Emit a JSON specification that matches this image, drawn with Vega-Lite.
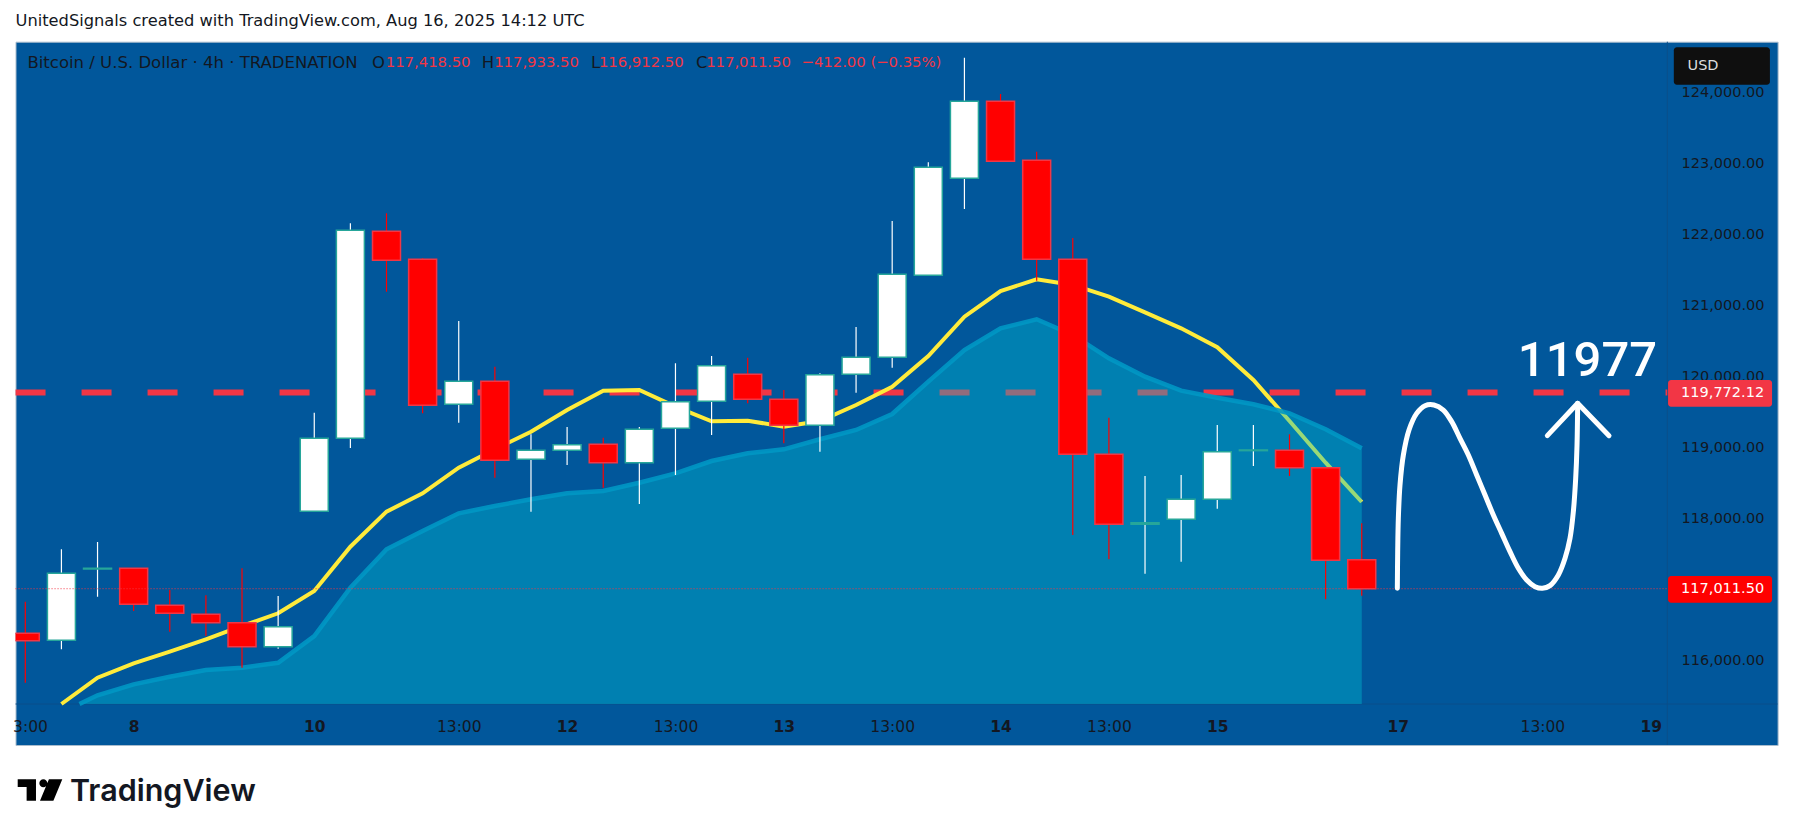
{
  "$schema": "https://vega.github.io/schema/vega-lite/v6.json",
  "description": "BTC/USD 4h candles with two moving averages and a drawn projection.",
  "width": 1762.1,
  "height": 703.3,
  "autosize": "none",
  "padding": {"left": 15.5, "top": 41.7, "right": 15.4, "bottom": 91},
  "background": "#ffffff",
  "view": {"fill": "#01579b", "stroke": "#a9bccd", "strokeWidth": 1},
  "title": {
    "text": "UnitedSignals created with TradingView.com, Aug 16, 2025 14:12 UTC",
    "anchor": "start",
    "frame": "group",
    "offset": 12,
    "font": "DejaVu Sans",
    "fontSize": 16.25,
    "fontWeight": "normal",
    "color": "#131722"
  },
  "datasets": {
    "candles": [
      {"i":0,"o":116384,"c":116280,"h":116829,"l":115689,"kind":"down","wick":"down"},
      {"i":1,"o":116286,"c":117229,"h":117567,"l":116159,"kind":"up","wick":"up"},
      {"i":2,"o":117290,"c":117300,"h":117669,"l":116900,"kind":"doji","wick":"up"},
      {"i":3,"o":117299,"c":116793,"h":117299,"l":116698,"kind":"down","wick":"down"},
      {"i":4,"o":116778,"c":116666,"h":116994,"l":116407,"kind":"down","wick":"down"},
      {"i":5,"o":116652,"c":116534,"h":116919,"l":116346,"kind":"down","wick":"down"},
      {"i":6,"o":116534,"c":116196,"h":117299,"l":115900,"kind":"down","wick":"down"},
      {"i":7,"o":116196,"c":116477,"h":116909,"l":116168,"kind":"up","wick":"up"},
      {"i":8,"o":118101,"c":119129,"h":119489,"l":118101,"kind":"up","wick":"up"},
      {"i":9,"o":119129,"c":122056,"h":122155,"l":118992,"kind":"up","wick":"up"},
      {"i":10,"o":122042,"c":121634,"h":122296,"l":121192,"kind":"down","wick":"down"},
      {"i":11,"o":121648,"c":119593,"h":121662,"l":119481,"kind":"down","wick":"down"},
      {"i":12,"o":119608,"c":119931,"h":120780,"l":119348,"kind":"up","wick":"up"},
      {"i":13,"o":119931,"c":118819,"h":120137,"l":118574,"kind":"down","wick":"down"},
      {"i":14,"o":118833,"c":118960,"h":119185,"l":118096,"kind":"up","wick":"up"},
      {"i":15,"o":118960,"c":119039,"h":119288,"l":118753,"kind":"up","wick":"up"},
      {"i":16,"o":119044,"c":118785,"h":119137,"l":118434,"kind":"down","wick":"down"},
      {"i":17,"o":118785,"c":119256,"h":119288,"l":118204,"kind":"up","wick":"up"},
      {"i":18,"o":119270,"c":119644,"h":120185,"l":118612,"kind":"up","wick":"up"},
      {"i":19,"o":119650,"c":120151,"h":120287,"l":119175,"kind":"up","wick":"up"},
      {"i":20,"o":120030,"c":119678,"h":120263,"l":119622,"kind":"down","wick":"down"},
      {"i":21,"o":119678,"c":119312,"h":119809,"l":119059,"kind":"down","wick":"down"},
      {"i":22,"o":119312,"c":120024,"h":120044,"l":118940,"kind":"up","wick":"up"},
      {"i":23,"o":120030,"c":120269,"h":120695,"l":119771,"kind":"up","wick":"up"},
      {"i":24,"o":120269,"c":121437,"h":122187,"l":120123,"kind":"up","wick":"up"},
      {"i":25,"o":121423,"c":122943,"h":123014,"l":121423,"kind":"up","wick":"up"},
      {"i":26,"o":122788,"c":123872,"h":124486,"l":122356,"kind":"up","wick":"up"},
      {"i":27,"o":123872,"c":123028,"h":123975,"l":123028,"kind":"down","wick":"down"},
      {"i":28,"o":123042,"c":121648,"h":123163,"l":121347,"kind":"down","wick":"down"},
      {"i":29,"o":121648,"c":118904,"h":121948,"l":117768,"kind":"down","wick":"down"},
      {"i":30,"o":118904,"c":117918,"h":119419,"l":117426,"kind":"down","wick":"down"},
      {"i":31,"o":117918,"c":117941,"h":118598,"l":117223,"kind":"up","wick":"up"},
      {"i":32,"o":117989,"c":118270,"h":118612,"l":117392,"kind":"up","wick":"up"},
      {"i":33,"o":118270,"c":118940,"h":119316,"l":118138,"kind":"up","wick":"up"},
      {"i":34,"o":118955,"c":118965,"h":119316,"l":118739,"kind":"doji","wick":"up"},
      {"i":35,"o":118960,"c":118715,"h":119185,"l":118598,"kind":"down","wick":"down"},
      {"i":36,"o":118715,"c":117412,"h":118715,"l":116863,"kind":"down","wick":"down"},
      {"i":37,"o":117418.5,"c":117011.5,"h":117933.5,"l":116912.5,"kind":"down","wick":"down"}
    ],
    "fast": [
      {"i":1,"p":115389},{"i":2,"p":115759},{"i":3,"p":115962},{"i":4,"p":116125},
      {"i":5,"p":116300},{"i":6,"p":116487},{"i":7,"p":116666},{"i":8,"p":116980},
      {"i":9,"p":117603},{"i":10,"p":118096},{"i":11,"p":118355},{"i":12,"p":118715},
      {"i":13,"p":118974},{"i":14,"p":119222},{"i":15,"p":119527},{"i":16,"p":119799},
      {"i":17,"p":119809},{"i":18,"p":119574},{"i":19,"p":119368},{"i":20,"p":119377},
      {"i":21,"p":119292},{"i":22,"p":119372},{"i":23,"p":119598},{"i":24,"p":119855},
      {"i":25,"p":120287},{"i":26,"p":120840},{"i":27,"p":121202},{"i":28,"p":121367},
      {"i":29,"p":121287},{"i":30,"p":121122},{"i":31,"p":120902},{"i":32,"p":120677},
      {"i":33,"p":120410},{"i":34,"p":119950},{"i":35,"p":119372},{"i":36,"p":118785},
      {"i":37,"p":118232}
    ],
    "slow": [
      {"i":1.5,"p":115389,"base":115389},{"i":2,"p":115512,"base":115389},{"i":3,"p":115666,"base":115389},
      {"i":4,"p":115773,"base":115389},{"i":5,"p":115868,"base":115389},{"i":6,"p":115900,"base":115389},
      {"i":7,"p":115970,"base":115389},{"i":8,"p":116346,"base":115389},{"i":9,"p":117026,"base":115389},
      {"i":10,"p":117567,"base":115389},{"i":11,"p":117824,"base":115389},{"i":12,"p":118073,"base":115389},
      {"i":13,"p":118176,"base":115389},{"i":14,"p":118270,"base":115389},{"i":15,"p":118355,"base":115389},
      {"i":16,"p":118387,"base":115389},{"i":17,"p":118504,"base":115389},{"i":18,"p":118636,"base":115389},
      {"i":19,"p":118809,"base":115389},{"i":20,"p":118918,"base":115389},{"i":21,"p":118974,"base":115389},
      {"i":22,"p":119115,"base":115389},{"i":23,"p":119246,"base":115389},{"i":24,"p":119471,"base":115389},
      {"i":25,"p":119926,"base":115389},{"i":26,"p":120372,"base":115389},{"i":27,"p":120677,"base":115389},
      {"i":28,"p":120804,"base":115389},{"i":29,"p":120583,"base":115389},{"i":30,"p":120255,"base":115389},
      {"i":31,"p":119996,"base":115389},{"i":32,"p":119799,"base":115389},{"i":33,"p":119700,"base":115389},
      {"i":34,"p":119608,"base":115389},{"i":35,"p":119481,"base":115389},{"i":36,"p":119256,"base":115389},
      {"i":37,"p":118988,"base":115389}
    ],
    "sketch": [
      {"i":37.985,"p":117017},{"i":37.995,"p":117533},{"i":38.013,"p":118002},{"i":38.059,"p":118472},
      {"i":38.152,"p":118894},{"i":38.308,"p":119246},{"i":38.521,"p":119480},{"i":38.751,"p":119588},
      {"i":39.001,"p":119598},{"i":39.259,"p":119527},{"i":39.49,"p":119363},{"i":39.72,"p":119128},
      {"i":39.951,"p":118894},{"i":40.182,"p":118612},{"i":40.413,"p":118331},{"i":40.643,"p":118049},
      {"i":40.874,"p":117791},{"i":41.105,"p":117533},{"i":41.336,"p":117299},{"i":41.566,"p":117134},
      {"i":41.797,"p":117041},{"i":42.0,"p":117017},{"i":42.212,"p":117055},{"i":42.443,"p":117205},
      {"i":42.628,"p":117440},{"i":42.766,"p":117721},{"i":42.858,"p":118096},{"i":42.923,"p":118565},
      {"i":42.96,"p":119035},{"i":42.978,"p":119621}
    ],
    "arrow": [
      {"i":42.138,"p":119166},{"i":42.978,"p":119621},{"i":43.846,"p":119166}
    ],
    "hudNames": [
      {"i":0.06,"p":124405,"label":"Bitcoin / U.S. Dollar · 4h · TRADENATION"},
      {"i":9.6,"p":124405,"label":"O"},
      {"i":12.64,"p":124405,"label":"H"},
      {"i":15.66,"p":124405,"label":"L"},
      {"i":18.57,"p":124405,"label":"C"}
    ],
    "hudValues": [
      {"i":9.98,"p":124405,"label":"117,418.50"},
      {"i":12.98,"p":124405,"label":"117,933.50"},
      {"i":15.88,"p":124405,"label":"116,912.50"},
      {"i":18.85,"p":124405,"label":"117,011.50"},
      {"i":21.49,"p":124405,"label":"−412.00 (−0.35%)"}
    ],
    "tags": [
      {"i":45.64,"i2":48.3,"p":124632,"p2":124106,"tag":"usd"},
      {"i":45.48,"i2":48.36,"p":119950,"p2":119574,"tag":"level"},
      {"i":45.48,"i2":48.36,"p":117191,"p2":116815,"tag":"last"}
    ],
    "tagText": [
      {"i":48.14,"p":119762,"label":"119,772.12"},
      {"i":48.14,"p":117003,"label":"117,011.50"}
    ],
    "edges": [
      {"i":-0.27,"i2":48.51,"p":115389,"p2":115389},
      {"i":45.46,"i2":45.46,"p":114812,"p2":124711}
    ],
    "levels": [{"i":-0.27,"i2":45.46,"p":119772.12}],
    "lastPrice": [{"i":-0.27,"i2":45.46,"p":117011.5}],
    "callout": [{"i":43.25,"p":120006,"label":"11977"}],
    "usdText": [{"i":46.02,"p":124373,"label":"USD"}],
    "brand": [{"i":1.235,"p":114024,"label":"TradingView"}],
    "brandIcon": [{"i":0.407,"p":114179}]
  },
  "encoding": {
    "x": {
      "field": "i",
      "type": "quantitative",
      "title": null,
      "scale": {"domain": [-0.2713, 48.513], "nice": false, "zero": false, "padding": 0},
      "axis": {
        "values": [0.13, 3, 8, 12, 15, 18, 21, 24, 27, 30, 33, 38, 42, 45],
        "labelExpr": "{'0.13':'3:00','3':'8','8':'10','12':'13:00','15':'12','18':'13:00','21':'13','24':'13:00','27':'14','30':'13:00','33':'15','38':'17','42':'13:00','45':'19'}[datum.value]",
        "grid": false,
        "ticks": false,
        "domain": false,
        "labelPadding": -26,
        "labelBound": false,
        "labelFlush": false,
        "labelOverlap": false,
        "labelFont": "DejaVu Sans",
        "labelFontSize": 15.5,
        "labelColor": "#131722",
        "labelBaseline": "top",
        "labelFontWeight": {"condition": {"test": "indexof([3,8,15,21,27,33,38,45], datum.value) >= 0", "value": "bold"}, "value": "normal"}
      }
    },
    "y": {
      "field": "p",
      "type": "quantitative",
      "title": null,
      "scale": {"domain": [114812, 124711], "nice": false, "zero": false},
      "axis": {
        "orient": "right",
        "values": [116000, 118000, 119000, 120000, 121000, 122000, 123000, 124000],
        "format": ",.2f",
        "grid": false,
        "ticks": false,
        "domain": false,
        "labelAlign": "right",
        "labelPadding": -13.6,
        "labelFont": "DejaVu Sans",
        "labelFontSize": 14.5,
        "labelColor": "#131722",
        "labelOverlap": false
      }
    }
  },
  "layer": [
    {
      "data": {"name": "edges"},
      "mark": {"type": "rule", "stroke": "#0b4f8a", "strokeWidth": 1},
      "encoding": {"x2": {"field": "i2"}, "y2": {"field": "p2"}}
    },
    {
      "data": {"name": "levels"},
      "mark": {"type": "rule", "stroke": "#f23645", "strokeWidth": 6, "strokeDash": [30, 36]},
      "encoding": {"x2": {"field": "i2"}}
    },
    {
      "data": {"name": "fast"},
      "mark": {"type": "line", "stroke": "#ffeb3b", "strokeWidth": 4, "clip": true}
    },
    {
      "data": {"name": "slow"},
      "mark": {"type": "area", "fill": "#00bed2", "opacity": 0.4},
      "encoding": {"y2": {"field": "base"}}
    },
    {
      "data": {"name": "slow"},
      "mark": {"type": "line", "stroke": "#0097c4", "strokeWidth": 4.5, "opacity": 0.9}
    },
    {
      "data": {"name": "candles"},
      "mark": {"type": "rule", "strokeWidth": 1.2, "clip": true},
      "encoding": {
        "y": {"field": "l", "type": "quantitative"},
        "y2": {"field": "h"},
        "color": {"field": "wick", "type": "nominal", "legend": null, "scale": {"domain": ["up", "down"], "range": ["#ffffff", "#ff0000"]}}
      }
    },
    {
      "data": {"name": "candles"},
      "mark": {"type": "bar", "size": 28, "strokeWidth": 1.5, "clip": true},
      "encoding": {
        "y": {"field": "o", "type": "quantitative"},
        "y2": {"field": "c"},
        "fill": {"field": "kind", "type": "nominal", "legend": null, "scale": {"domain": ["up", "down", "doji"], "range": ["#ffffff", "#ff0000", "#26a69a"]}},
        "stroke": {"field": "kind", "type": "nominal", "legend": null, "scale": {"domain": ["up", "down", "doji"], "range": ["#26a69a", "#f23645", "#26a69a"]}}
      }
    },
    {
      "data": {"name": "lastPrice"},
      "mark": {"type": "rule", "stroke": "#f23645", "strokeWidth": 1, "strokeDash": [1, 2]},
      "encoding": {"x2": {"field": "i2"}}
    },
    {
      "data": {"name": "sketch"},
      "mark": {"type": "line", "stroke": "#ffffff", "strokeWidth": 5, "strokeCap": "round", "strokeJoin": "round", "interpolate": "catmull-rom"}
    },
    {
      "data": {"name": "arrow"},
      "mark": {"type": "line", "stroke": "#ffffff", "strokeWidth": 5, "strokeCap": "round", "strokeJoin": "round"}
    },
    {
      "data": {"name": "callout"},
      "mark": {"type": "text", "font": "Roboto", "fontSize": 49, "fontWeight": 500, "align": "center", "baseline": "alphabetic", "fill": "#ffffff"},
      "encoding": {"text": {"field": "label"}}
    },
    {
      "data": {"name": "hudNames"},
      "mark": {"type": "text", "font": "DejaVu Sans", "fontSize": 16.5, "align": "left", "baseline": "middle", "fill": "#131722"},
      "encoding": {"text": {"field": "label"}}
    },
    {
      "data": {"name": "hudValues"},
      "mark": {"type": "text", "font": "DejaVu Sans", "fontSize": 14.8, "align": "left", "baseline": "middle", "fill": "#f23645"},
      "encoding": {"text": {"field": "label"}}
    },
    {
      "data": {"name": "tags"},
      "mark": {"type": "rect", "cornerRadius": 3},
      "encoding": {
        "x2": {"field": "i2"},
        "y2": {"field": "p2"},
        "color": {"field": "tag", "type": "nominal", "legend": null, "scale": {"domain": ["usd", "level", "last"], "range": ["#0f0f0f", "#f23645", "#ff0000"]}}
      }
    },
    {
      "data": {"name": "tagText"},
      "mark": {"type": "text", "font": "DejaVu Sans", "fontSize": 14.5, "align": "right", "baseline": "middle", "fill": "#ffffff"},
      "encoding": {"text": {"field": "label"}}
    },
    {
      "data": {"name": "usdText"},
      "mark": {"type": "text", "font": "DejaVu Sans", "fontSize": 14.5, "align": "left", "baseline": "middle", "fill": "#dddddd"},
      "encoding": {"text": {"field": "label"}}
    },
    {
      "data": {"name": "brand"},
      "mark": {"type": "text", "font": "Inter", "fontSize": 30.5, "fontWeight": 600, "align": "left", "baseline": "alphabetic", "fill": "#131722"},
      "encoding": {"text": {"field": "label"}}
    },
    {
      "data": {"name": "brandIcon"},
      "mark": {
        "type": "point",
        "filled": true,
        "opacity": 1,
        "fill": "#000000",
        "size": 1989,
        "shape": "M-1,-.48L-.18,-.48L-.18,.48L-.6,.48L-.6,-.135L-1,-.135Z M.33,-.3a.18,.18 0 1,1 -.36,0 a.18,.18 0 1,1 .36,0Z M.4,-.48L1,-.48L.6,.48L0,.48Z"
      }
    }
  ],
  "resolve": {"scale": {"color": "independent", "fill": "independent", "stroke": "independent"}}
}
